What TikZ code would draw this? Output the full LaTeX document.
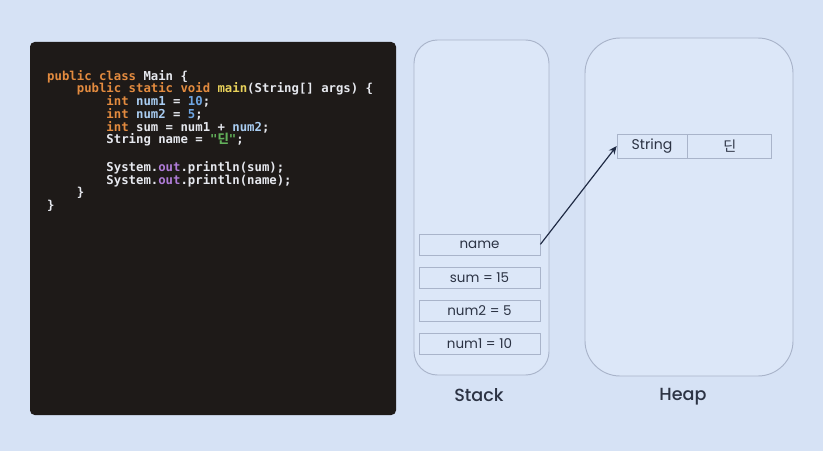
\documentclass[tikz,border=0pt]{standalone}
\usepackage{fontspec}
\setmainfont{Poppins}
\setmonofont{DejaVu Sans Mono}
\newfontfamily\krfont{Noto Sans CJK KR}
\newfontfamily\titlefont{Poppins}[UprightFont=* Medium]
\usetikzlibrary{positioning,arrows.meta}

\definecolor{bgblue}{HTML}{D6E2F5}
\definecolor{panelfill}{HTML}{DCE7F8}
\definecolor{frameline}{HTML}{A9B4CA}
\definecolor{codebg}{HTML}{1E1A18}
\definecolor{kwcol}{HTML}{E38B3F}
\definecolor{varcol}{HTML}{A9CDF2}
\definecolor{numcol}{HTML}{6FA6E3}
\definecolor{fncol}{HTML}{E8D15A}
\definecolor{strcol}{HTML}{62B05A}
\definecolor{outcol}{HTML}{B07CD8}
\definecolor{plaincol}{HTML}{E6E8EE}
\definecolor{labelcol}{HTML}{2C3344}
\definecolor{arrowcol}{HTML}{1F2A44}

\newcommand\kw[1]{\textcolor{kwcol}{#1}}
\newcommand\vr[1]{\textcolor{varcol}{#1}}
\newcommand\nb[1]{\textcolor{numcol}{#1}}
\newcommand\fn[1]{\textcolor{fncol}{#1}}
\newcommand\strlit[1]{\textcolor{strcol}{#1}}
\newcommand\outkw[1]{\textcolor{outcol}{#1}}
\newcommand\ind[1]{\phantom{\ttfamily\bfseries #1}}

\begin{document}
\begin{tikzpicture}[
  x=0.03cm, y=-0.03cm,
  frame/.style={draw=frameline, line width=0.8pt, fill=panelfill},
  cell/.style={draw=frameline, line width=0.6pt, minimum width=3.63cm,
               minimum height=0.63cm, inner sep=0pt,
               font=\fontsize{11.5}{13}\selectfont, text=labelcol},
  heapcell/.style={draw=frameline, line width=0.6pt, minimum height=0.72cm,
                   inner sep=0pt, font=\fontsize{12}{14}\selectfont, text=labelcol},
  title/.style={font=\titlefont\fontsize{15}{17}\selectfont, text=labelcol},
  arrow/.style={-{Stealth[length=7pt,width=6pt]}, line width=1pt, draw=arrowcol}
]
  % background and panels
  \fill[bgblue] (0,0) rectangle (823,451);
  \fill[codebg, rounded corners=4pt] (30,42) rectangle (396,415);
  \draw[frame, rounded corners=20] (414,40) rectangle (549,375);
  \draw[frame, rounded corners=30] (585,38) rectangle (793,376);

  % source code
  \node[anchor=north west, align=left, inner sep=0pt, text=plaincol,
        font=\ttfamily\bfseries\fontsize{10.5}{10.85}\selectfont] (code) at (47,70) {%
    \kw{public class} Main \{\\
    \ind{xxxx}\kw{public static void} \fn{main}(String[] args) \{\\
    \ind{xxxxxxxx}\kw{int} \vr{num1} = \nb{10};\\
    \ind{xxxxxxxx}\kw{int} \vr{num2} = \nb{5};\\
    \ind{xxxxxxxx}\kw{int} sum = num1 + \vr{num2};\\
    \ind{xxxxxxxx}String name = \strlit{"{\krfont 딘}"};\\
    \strut\\
    \ind{xxxxxxxx}System.\outkw{out}.println(sum);\\
    \ind{xxxxxxxx}System.\outkw{out}.println(name);\\
    \ind{xxxx}\}\\
    \}};

  % stack cells
  \node[cell] (num1) at (479.5,343.5) {num1 = 10};
  \node[cell, above=0.33cm of num1] (num2) {num2 = 5};
  \node[cell, above=0.33cm of num2] (sum) {sum = 15};
  \node[cell, above=0.36cm of sum] (name) {name};

  % heap object
  \node[heapcell, minimum width=2.1cm] (str) at (652,146) {String};
  \node[heapcell, minimum width=2.52cm, right=0pt of str] (val) {\krfont 딘};

  \draw[arrow] (name.east) -- (str.west);

  \node[title] (stacklbl) at (479,395) {Stack};
  \node[title] (heaplbl) at (683,397) {Heap};
\end{tikzpicture}
\end{document}
